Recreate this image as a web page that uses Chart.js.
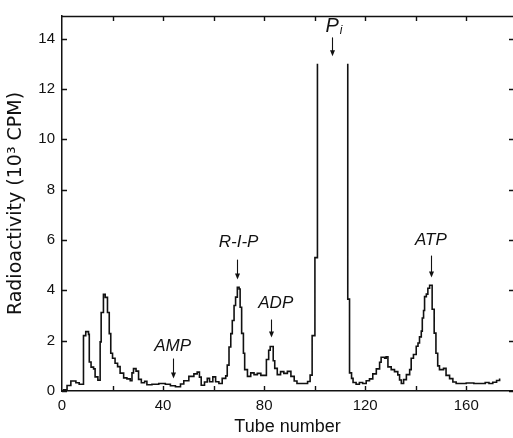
<!DOCTYPE html>
<html><head><meta charset="utf-8">
<script src="https://cdn.jsdelivr.net/npm/chart.js@4.4.1/dist/chart.umd.min.js"></script>
<style>html,body{margin:0;padding:0;background:#fff;}canvas{display:block;}</style>
</head><body>
<canvas id="c" width="513" height="438"></canvas>
<script>
// Step positions (tube number where each level begins) and radioactivity (10^3 CPM)
const tubeNumber = [0.3,2.0,3.5,5.5,6.8,8.5,9.4,10.5,10.8,11.5,12.5,13.1,14.2,15.1,15.5,16.4,17.1,18.0,18.7,19.3,20.0,21.0,22.0,23.0,24.4,25.7,27.0,27.7,28.3,29.3,30.3,31.4,32.7,33.6,35.6,38.3,40.9,42.9,44.9,46.9,48.2,50.2,52.2,53.5,54.4,55.1,56.4,57.5,58.4,59.7,60.8,62.1,63.4,64.8,65.4,66.1,66.8,67.4,68.1,68.7,69.4,70.1,70.5,71.1,71.8,72.3,73.4,74.7,76.0,77.3,78.7,80.0,80.9,81.8,82.4,83.6,84.2,85.2,86.5,87.8,89.2,90.6,91.9,93.0,97.2,98.2,99.0,100.1,101.1,101.2,113.1,113.1,113.8,114.6,115.2,116.4,117.7,119.0,120.4,121.7,123.0,124.4,125.7,126.3,127.7,128.3,129.0,130.3,131.6,132.9,133.6,134.3,135.2,136.3,137.6,138.2,139.1,140.2,140.9,141.5,142.2,142.6,143.1,143.5,144.2,144.8,145.5,146.5,147.3,148.0,148.7,149.4,151.0,152.0,153.4,154.7,156.0,160.0,163.0,167.5,169.0,170.5,172.0,173.2];
const radioactivity = [0.05,0.22,0.4,0.33,0.27,2.2,2.36,2.25,1.15,0.95,0.88,0.56,0.43,1.95,3.12,3.84,3.72,3.12,2.28,1.5,1.3,1.1,0.97,0.71,0.52,0.48,0.41,0.72,0.89,0.79,0.46,0.33,0.39,0.25,0.27,0.3,0.27,0.21,0.17,0.28,0.41,0.58,0.68,0.75,0.55,0.23,0.36,0.5,0.37,0.56,0.37,0.3,0.5,0.6,1.03,1.75,2.28,2.8,3.4,3.73,4.12,4.05,3.33,2.29,1.5,0.85,0.58,0.72,0.65,0.7,0.62,0.62,1.25,1.62,1.77,1.2,0.9,0.65,0.77,0.7,0.78,0.58,0.4,0.3,0.38,0.63,2.2,5.3,13.0,null,13.0,3.65,0.72,0.5,0.34,0.27,0.34,0.3,0.41,0.48,0.68,0.88,1.14,1.34,1.3,1.36,0.96,0.85,0.77,0.64,0.44,0.3,0.45,0.65,0.85,1.3,1.45,1.78,1.91,2.15,2.38,2.9,3.2,3.75,3.85,4.08,4.2,3.25,2.3,1.5,1.0,0.85,0.9,0.62,0.49,0.36,0.3,0.32,0.3,0.34,0.3,0.35,0.42,0.5];

const xTickValues = [0,20,40,60,80,100,120,140,160];
const xLabelValues = [0,40,80,120,160];
const yTickValues = [0,2,4,6,8,10,12,14];

const peakNames = ['AMP','R-I-P','ADP','P','ATP'];
const peakTubes = [43.9,69.3,82.6,106.9,146.0];

// annotation placement (styling/positions, in data units)
const peakMarks = [
  {textTube:43.8, textCpm:1.76, tail:1.29, tip:0.5},
  {textTube:69.9, textCpm:5.89, tail:5.22, tip:4.43},
  {textTube:84.6, textCpm:3.47, tail:2.84, tip:2.13},
  {textTube:106.9, textCpm:14.5, tail:14.05, tip:13.3, sub:'i'},
  {textTube:146.0, textCpm:6.0, tail:5.38, tip:4.51}
];

Chart.defaults.font.family = "'Liberation Sans', Arial, sans-serif";
Chart.defaults.color = '#111';

const frameAndMarks = {
  id: 'frameAndMarks',
  afterDatasetsDraw(chart) {
    const {ctx, chartArea: a, scales: {x, y}} = chart;
    ctx.save();
    ctx.strokeStyle = '#111';
    ctx.lineWidth = 1.4;
    ctx.beginPath();
    ctx.moveTo(a.left, a.top + 0.5); ctx.lineTo(a.right, a.top + 0.5);
    x.ticks.forEach(t => {
      if (t.value <= 0) return;
      const px = Math.round(x.getPixelForValue(t.value)) + 0.5;
      ctx.moveTo(px, a.bottom); ctx.lineTo(px, a.bottom - 5);
      ctx.moveTo(px, a.top); ctx.lineTo(px, a.top + 5);
    });
    y.ticks.forEach(t => {
      const py = Math.round(y.getPixelForValue(t.value)) + 0.5;
      ctx.moveTo(a.left, py); ctx.lineTo(a.left + 5, py);
      ctx.moveTo(a.right, py); ctx.lineTo(a.right - 4, py);
    });
    ctx.stroke();

    // peak labels and arrows
    ctx.fillStyle = '#111';
    ctx.lineWidth = 1.1;
    peakNames.forEach((name, i) => {
      const m = peakMarks[i];
      const ax = Math.round(x.getPixelForValue(peakTubes[i])) + 0.5;
      const y1 = y.getPixelForValue(m.tail), y2 = y.getPixelForValue(m.tip);
      ctx.beginPath(); ctx.moveTo(ax, y1); ctx.lineTo(ax, y2 - 4); ctx.stroke();
      ctx.beginPath(); ctx.moveTo(ax - 2.5, y2 - 6); ctx.lineTo(ax + 2.5, y2 - 6); ctx.lineTo(ax, y2); ctx.closePath(); ctx.fill();
      const tx = x.getPixelForValue(m.textTube), ty = y.getPixelForValue(m.textCpm);
      ctx.textBaseline = 'middle';
      if (m.sub) {
        ctx.font = "italic 20px 'Liberation Sans', Arial, sans-serif";
        ctx.textAlign = 'center';
        const w = ctx.measureText(name).width;
        ctx.fillText(name, tx, ty);
        ctx.font = "italic 12px 'Liberation Sans', Arial, sans-serif";
        ctx.textAlign = 'left';
        ctx.fillText(m.sub, tx + w / 2 + 1, ty + 5);
      } else {
        ctx.font = "italic 17px 'Liberation Sans', Arial, sans-serif";
        ctx.textAlign = 'center';
        ctx.fillText(name, tx, ty);
      }
    });
    ctx.restore();
  }
};

new Chart(document.getElementById('c'), {
  type: 'line',
  data: {
    datasets: [{
      data: tubeNumber.map((t, i) => ({x: t, y: radioactivity[i]})),
      stepped: 'before',
      spanGaps: false,
      borderColor: '#111',
      borderWidth: 1.6,
      pointRadius: 0,
      fill: false,
      tension: 0
    }]
  },
  options: {
    responsive: false,
    animation: false,
    devicePixelRatio: 1,
    layout: {padding: {top: 11, right: 0, left: 0, bottom: 0}},
    plugins: {legend: {display: false}, tooltip: {enabled: false}},
    scales: {
      x: {
        type: 'linear', min: 0, max: 178.5,
        afterBuildTicks: s => { s.ticks = xTickValues.map(v => ({value: v})); },
        afterFit: s => { s.height = 47; },
        ticks: {
          autoSkip: false, maxRotation: 0, padding: 6,
          font: {size: 15}, color: '#111',
          callback: v => xLabelValues.includes(v) ? String(v) : ''
        },
        grid: {display: false, drawTicks: false},
        border: {display: true, color: '#111', width: 1.5},
        title: {display: true, text: 'Tube number', font: {size: 18}, color: '#111', padding: {top: 0, bottom: 0}}
      },
      y: {
        type: 'linear', min: 0, max: 14.9,
        afterBuildTicks: s => { s.ticks = yTickValues.map(v => ({value: v})); },
        afterFit: s => { s.width = 62; },
        ticks: {padding: 7, font: {size: 15}, color: '#111'},
        grid: {display: false, drawTicks: false},
        border: {display: true, color: '#111', width: 1.5},
        title: {display: true, text: 'Radioactivity (10³ CPM)', font: {size: 19, family: "'DejaVu Sans', sans-serif"}, color: '#111', padding: {top: 5, bottom: 0}}
      }
    }
  },
  plugins: [frameAndMarks]
});
</script>
</body></html>
